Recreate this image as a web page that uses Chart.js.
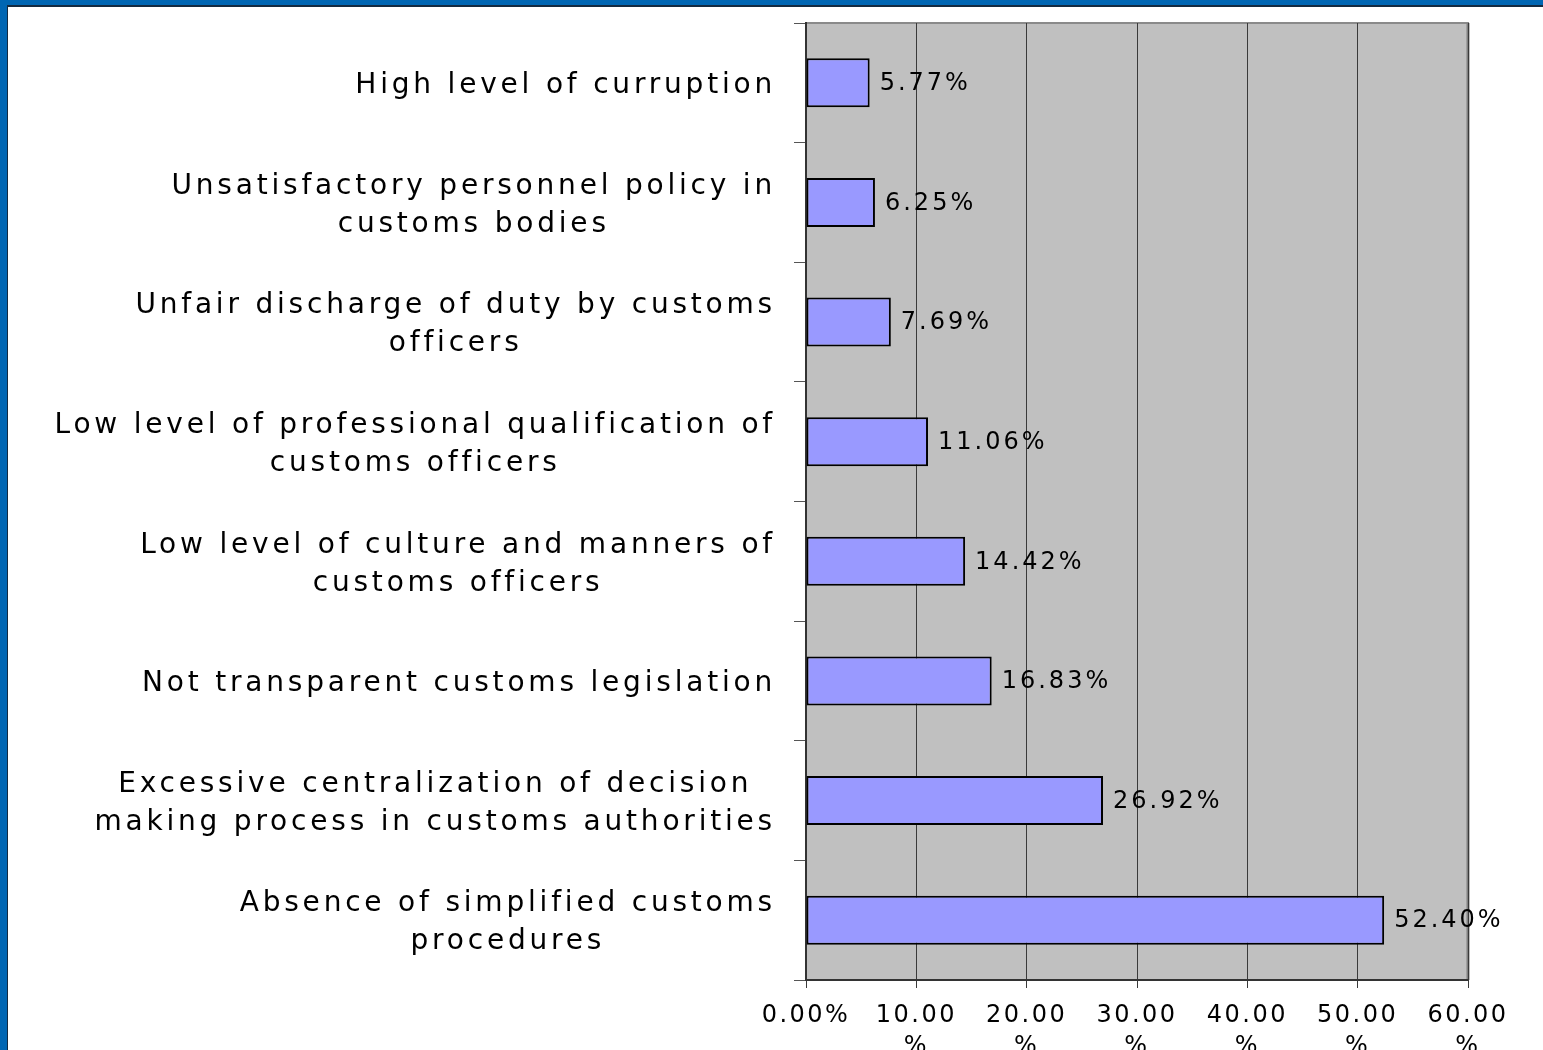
<!DOCTYPE html>
<html lang="en">
<head>
  <meta charset="UTF-8" />
  <title>Customs problems</title>
  <script src="https://cdn.jsdelivr.net/npm/chart.js"></script>
  <style>
    body { margin: 0; background: #fff; width: 1543px; height: 1050px; overflow: hidden; }
    #frame {
      position: absolute; left: 0; top: 0; width: 1543px; height: 1050px;
      box-sizing: border-box;
      border-top: 5px solid #0066b3; border-left: 7px solid #0066b3;
    }
    #frame .inner {
      position: absolute; left: 0; top: 0; right: 0; bottom: 0;
      border-top: 2px solid #142a40; border-left: 1px solid #142a40;
    }
    canvas { position: absolute; left: 0; top: 0; }
  </style>
</head>
<body>
  <div id="frame"><div class="inner"></div></div>
  <canvas id="chart" width="1543" height="1050"></canvas>

  <script>
    // values
    const categories = [
      ['High level of curruption'],
      ['Unsatisfactory personnel policy in', 'customs bodies'],
      ['Unfair discharge of duty by customs', 'officers'],
      ['Low level of professional qualification of', 'customs officers'],
      ['Low level of culture and manners of', 'customs officers'],
      ['Not transparent customs legislation'],
      ['Excessive centralization of decision', 'making process in customs authorities'],
      ['Absence of simplified customs', 'procedures']
    ];
    const shares = [5.77, 6.25, 7.69, 11.06, 14.42, 16.83, 26.92, 52.40];
    const xTickLabels = ['0.00%', ['10.00', '%'], ['20.00', '%'], ['30.00', '%'],
                         ['40.00', '%'], ['50.00', '%'], ['60.00', '%']];

    const FONT = '"DejaVu Sans", sans-serif';

    // gray plot background + frame
    const plotBg = {
      id: 'plotBg',
      beforeDraw(chart) {
        const {ctx, chartArea: a} = chart;
        ctx.save();
        ctx.fillStyle = '#c0c0c0';
        ctx.fillRect(a.left, a.top, a.right - a.left, a.bottom - a.top);
        ctx.strokeStyle = '#8a8a8a';
        ctx.lineWidth = 2;
        ctx.strokeRect(a.left, a.top, a.right - a.left, a.bottom - a.top);
        ctx.lineWidth = 3;
        ctx.strokeStyle = '#808080';
        ctx.beginPath();
        ctx.moveTo(a.right, a.top);
        ctx.lineTo(a.right, a.bottom);
        ctx.stroke();
        ctx.restore();
        ctx.letterSpacing = '2.5px';  // stretched look of the x tick labels
      }
    };

    // percent labels at the end of each bar
    const valueLabels = {
      id: 'valueLabels',
      afterDatasetsDraw(chart) {
        const ctx = chart.ctx;
        const meta = chart.getDatasetMeta(0);
        ctx.save();
        ctx.font = '24px ' + FONT;
        ctx.letterSpacing = '3px';
        ctx.fillStyle = '#000';
        ctx.textAlign = 'left';
        ctx.textBaseline = 'middle';
        meta.data.forEach((bar, i) => {
          ctx.fillText(shares[i].toFixed(2) + '%', bar.x + 10, bar.y + 1);
        });
        ctx.restore();
      }
    };

    // category labels: each block right aligned, lines centred within the block
    const categoryLabels = {
      id: 'categoryLabels',
      afterDraw(chart) {
        const ctx = chart.ctx;
        const yScale = chart.scales.y;
        const right = chart.chartArea.left - 30;
        ctx.save();
        ctx.font = '28px ' + FONT;
        ctx.letterSpacing = '3.8px';
        ctx.fillStyle = '#000';
        ctx.textAlign = 'center';
        ctx.textBaseline = 'middle';
        categories.forEach((lines, i) => {
          const w = Math.max(...lines.map(l => ctx.measureText(l).width));
          const cx = right - w / 2;
          const cy = yScale.getPixelForValue(i) + 3;
          lines.forEach((l, j) => {
            ctx.fillText(l, cx, cy + (j - (lines.length - 1) / 2) * 38);
          });
        });
        ctx.restore();
      }
    };

    new Chart(document.getElementById('chart'), {
      type: 'bar',
      data: {
        labels: categories,
        datasets: [{
          data: shares,
          backgroundColor: '#9999ff',
          borderColor: '#000',
          borderWidth: 2,
          borderSkipped: false,
          categoryPercentage: 1,
          barPercentage: 0.41
        }]
      },
      options: {
        indexAxis: 'y',
        responsive: false,
        animation: false,
        layout: { padding: { top: 23, right: 75, left: 0, bottom: 0 } },
        plugins: {
          legend: { display: false },
          tooltip: { enabled: false }
        },
        scales: {
          y: {
            offset: true,
            afterFit(scale) { scale.width = 806; },
            grid: { drawOnChartArea: false, drawTicks: true, tickLength: 12, color: '#555', offset: true },
            border: { color: '#333', width: 2 },
            ticks: { display: false }
          },
          x: {
            min: 0,
            max: 60,
            afterFit(scale) { scale.height = 70; },
            grid: { color: '#3a3a3a', lineWidth: 1, tickLength: 8, drawTicks: true },
            border: { color: '#333', width: 2 },
            ticks: {
              stepSize: 10,
              autoSkip: false,
              maxRotation: 0,
              minRotation: 0,
              padding: 12,
              color: '#000',
              font: { family: FONT, size: 24, lineHeight: 1.3 },
              callback: (v, i) => xTickLabels[i]
            }
          }
        }
      },
      plugins: [plotBg, valueLabels, categoryLabels]
    });
  </script>
</body>
</html>
